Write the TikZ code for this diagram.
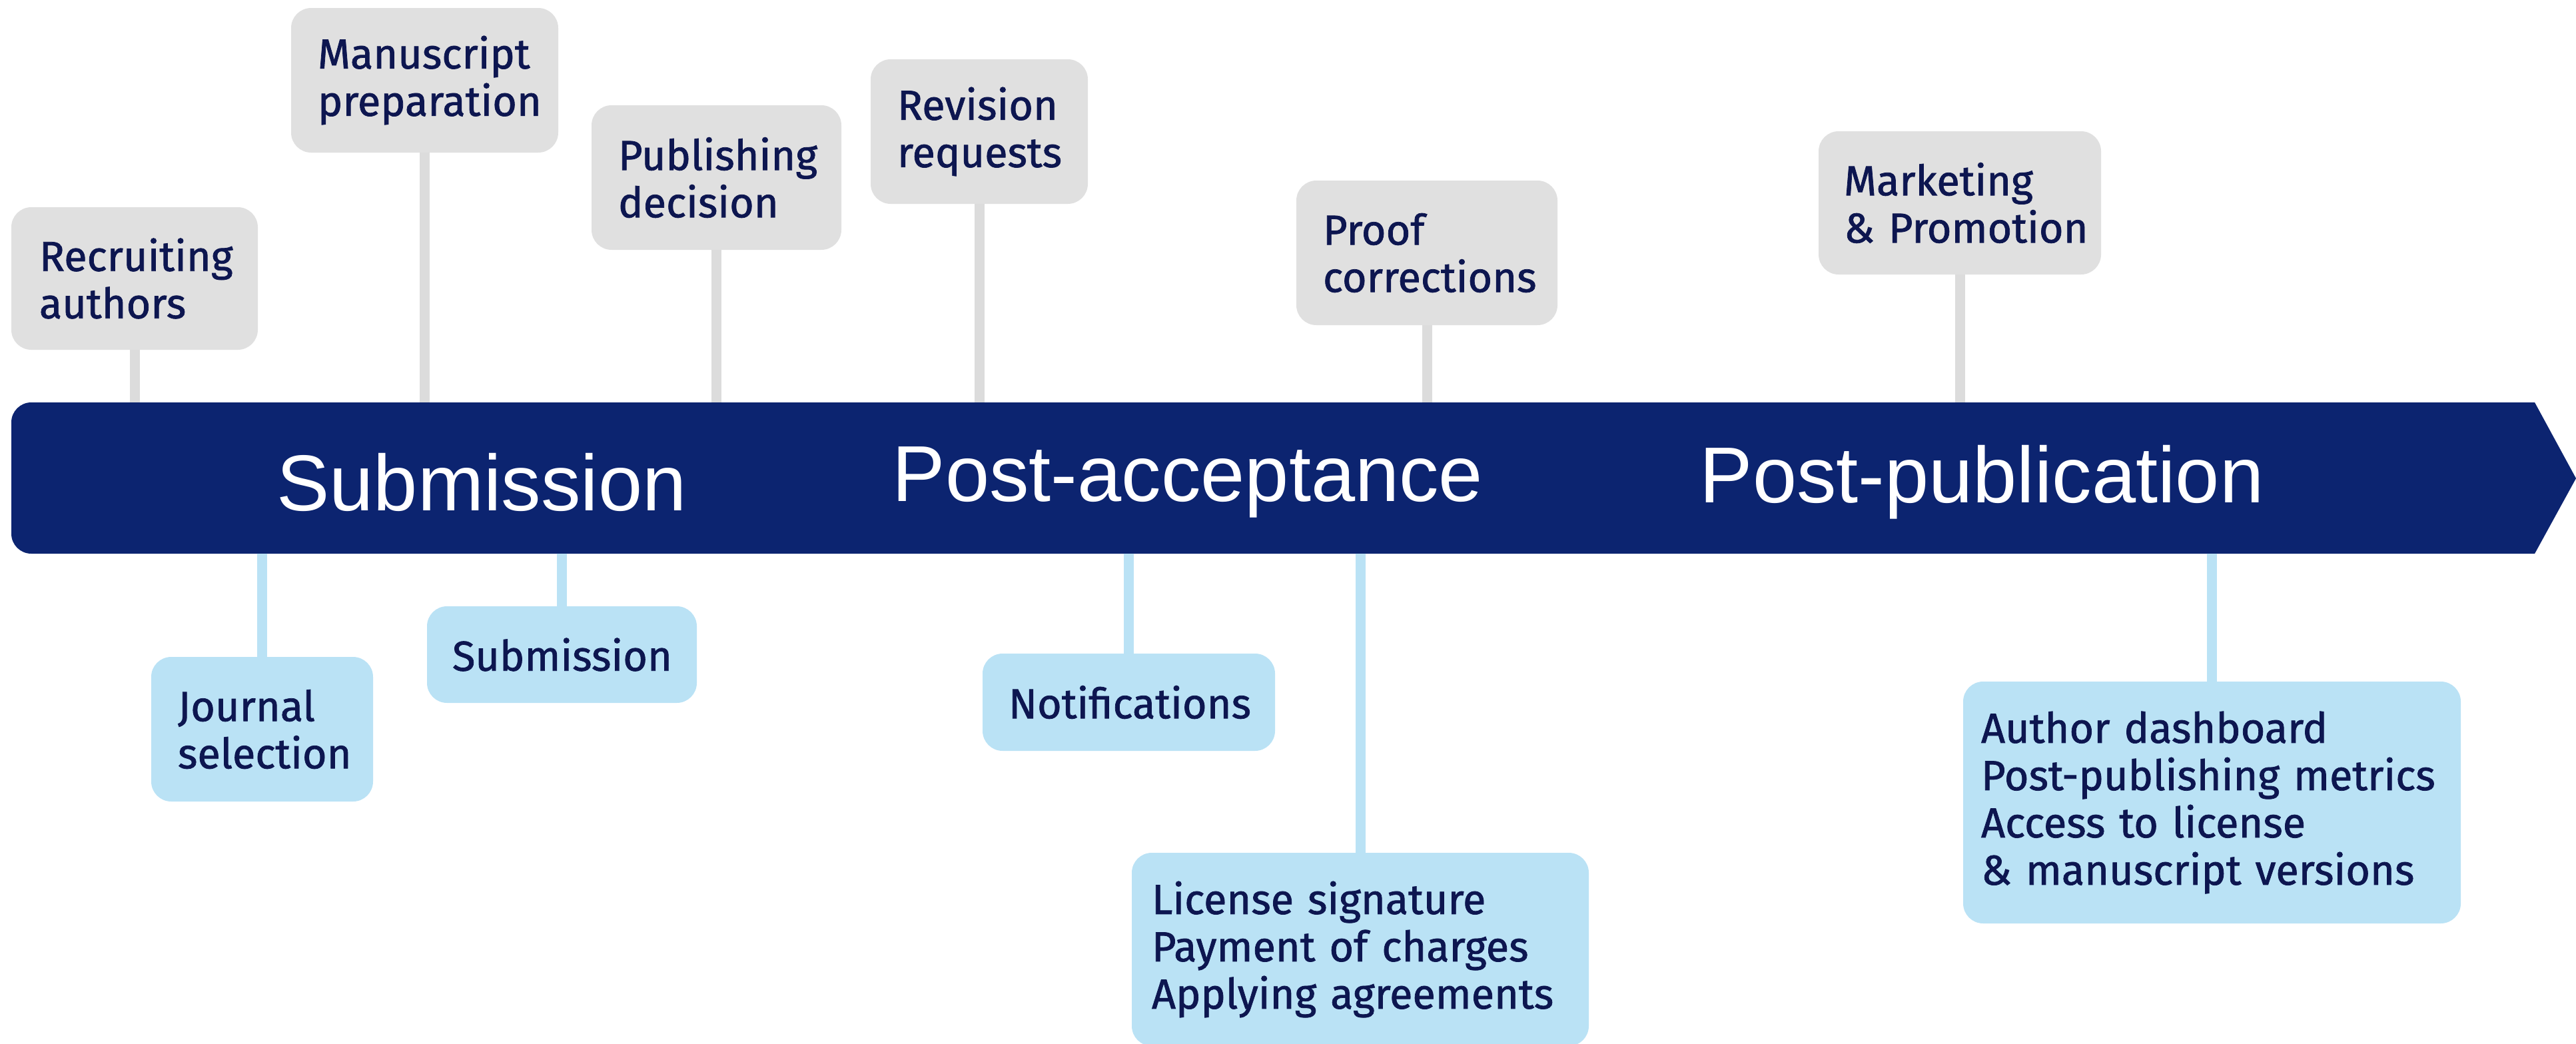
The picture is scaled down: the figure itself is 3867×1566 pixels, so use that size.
\documentclass[tikz,border=0pt]{standalone}
\usepackage{fontspec}
\setmainfont{Fira Sans}
\newfontfamily\boxfont{Fira Sans}[FakeBold=1.2]
\newfontfamily\bandfont{Liberation Sans}
\definecolor{bandblue}{HTML}{0C2470}
\definecolor{greyfill}{HTML}{E0E0E0}
\definecolor{greyline}{HTML}{DCDCDC}
\definecolor{bluefill}{HTML}{BAE2F5}
\definecolor{navytext}{HTML}{0D1650}
\tikzset{
  boxbase/.style={rounded corners=30pt, inner ysep=0pt, align=left, text=navytext,
    font=\boxfont\fontsize{63}{71}\selectfont, anchor=center},
  gbox/.style={boxbase, fill=greyfill},
  bbox/.style={boxbase, fill=bluefill},
  gconn/.style={draw=greyline, line width=15pt},
  bconn/.style={draw=bluefill, line width=15pt},
  bandlabel/.style={text=white, font=\bandfont\fontsize{119}{130}\selectfont, inner sep=0pt}
}
\begin{document}
\hyphenpenalty=10000
\exhyphenpenalty=10000
\begin{tikzpicture}[x=1pt,y=-1pt]
\useasboundingbox (0,0) rectangle (3867,1566);
% band
\fill[bandblue] (3805,604) -- (3867,718) -- (3805,831)
  [rounded corners=30pt] -- (17,831) -- (17,604) [sharp corners] -- cycle;
\coordinate (bandtop) at (0,604);
\coordinate (bandbot) at (0,831);
\node[bandlabel] (lsub) at (723,724) {Submission};
\node[bandlabel] (lpost) at (1783,724) {Post-acceptance};
\node[bandlabel] (lpub) at (2975,724) {Post-publication};

% grey boxes
\node[gbox, minimum height=214pt, inner xsep=42pt, text width=286pt] (rec) at (202,418) {Recruiting\\authors};
\node[gbox, minimum height=217pt, inner xsep=40pt, text width=321pt] (man) at (637.5,120.5) {Manuscript\\preparation};
\node[gbox, minimum height=217pt, inner xsep=40pt, text width=295pt] (pub) at (1075.5,266.5) {Publishing\\decision};
\node[gbox, minimum height=217pt, inner xsep=40pt, text width=246pt] (rev) at (1470,197.5) {Revision\\requests};
\node[gbox, minimum height=217pt, inner xsep=40pt, text width=312pt] (proof) at (2142,379.5) {Proof\\corrections};
\node[gbox, minimum height=215pt, inner xsep=38pt, text width=348pt] (mkt) at (2942,304.5) {Marketing\\\&~Promotion};

% blue boxes
\node[bbox, minimum height=217pt, inner xsep=40pt, text width=253pt] (jour) at (393.5,1094.5) {Journal\\selection};
\node[bbox, minimum height=145pt, inner xsep=38pt, text width=329pt] (sub) at (843.5,982.5) {Submission};
\node[bbox, minimum height=146pt, inner xsep=39pt, text width=361pt] (notif) at (1694.5,1054) {Notifications};
\node[bbox, minimum height=290pt, inner xsep=30pt, text width=626pt] (lic) at (2042,1425) {License signature\\Payment of charges\\Applying agreements};
\node[bbox, minimum height=363pt, inner xsep=27pt, text width=693pt] (auth) at (3320.5,1204.5) {Author dashboard\\Post-publishing metrics\\Access to license\\\&~manuscript versions};

% connectors
\draw[gconn] (rec.south) -- (rec.south |- bandtop);
\draw[gconn] (man.south) -- (man.south |- bandtop);
\draw[gconn] (pub.south) -- (pub.south |- bandtop);
\draw[gconn] (rev.south) -- (rev.south |- bandtop);
\draw[gconn] (proof.south) -- (proof.south |- bandtop);
\draw[gconn] (mkt.south) -- (mkt.south |- bandtop);
\draw[bconn] (jour.north) -- (jour.north |- bandbot);
\draw[bconn] (sub.north) -- (sub.north |- bandbot);
\draw[bconn] (notif.north) -- (notif.north |- bandbot);
\draw[bconn] (lic.north) -- (lic.north |- bandbot);
\draw[bconn] (auth.north) -- (auth.north |- bandbot);
\end{tikzpicture}
\end{document}
